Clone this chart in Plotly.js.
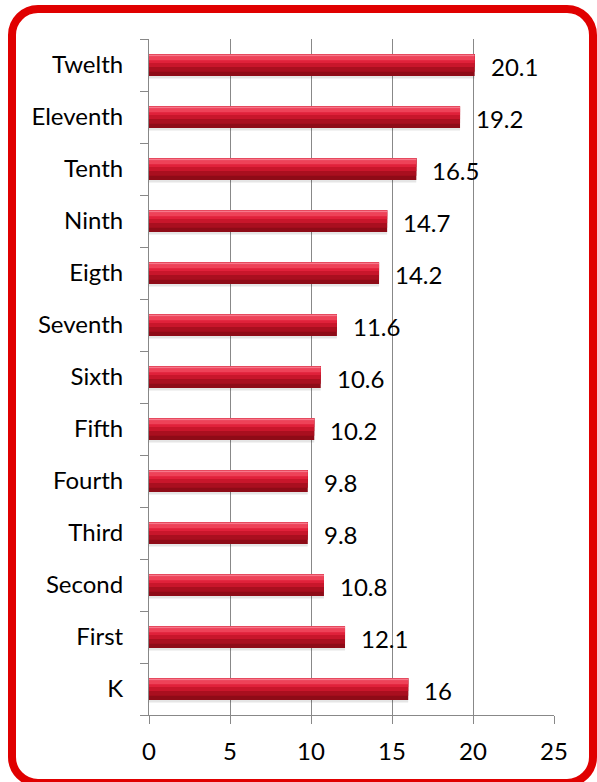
<!DOCTYPE html>
<html>
<head>
<meta charset="utf-8">
<script src="https://cdn.plot.ly/plotly-3.0.1.min.js"></script>
<style>
  html, body { margin: 0; padding: 0; background: #fff; overflow: hidden; }
  #frame { position: absolute; left: 8px; top: 5px; width: 589px; height: 782px; box-sizing: border-box;
           border: 8px solid #e00000; border-radius: 30px; pointer-events: none; z-index: 2; }
  #chart { position: absolute; left: 0; top: 0; width: 597px; height: 782px; }
</style>
</head>
<body>
<div id="chart"></div>
<div id="frame"></div>
<script>
const grades = ["K", "First", "Second", "Third", "Fourth", "Fifth", "Sixth", "Seventh", "Eigth", "Ninth", "Tenth", "Eleventh", "Twelth"];
const values = [16, 12.1, 10.8, 9.8, 9.8, 10.2, 10.6, 11.6, 14.2, 14.7, 16.5, 19.2, 20.1];
const labels = ["16", "12.1", "10.8", "9.8", "9.8", "10.2", "10.6", "11.6", "14.2", "14.7", "16.5", "19.2", "20.1"];
const xTicks = [0, 5, 10, 15, 20, 25];

const FONT = "Lato, Open Sans, sans-serif";
const FS = 24;

function layer(color, offset, width) {
  return {
    type: "bar", orientation: "h", y: grades, x: values,
    offset: offset, width: width,
    marker: { color: color, line: { width: 0 } },
    hoverinfo: "skip", showlegend: false
  };
}

const traces = [
  layer("rgba(0,0,0,0.10)", -0.26, 0.44),
  layer("#8e0b17", -0.21, 0.42),
  layer("#a90f1f", -0.13, 0.34),
  layer("#c8162b", -0.04, 0.25),
  layer("#e0213a", 0.04, 0.16),
  layer("#ee4258", 0.09, 0.08),
  layer("#f7788a", 0.17, 0.03)
];

const annotations = grades.map((g, i) => ({
  x: values[i], y: g, xref: "x", yref: "y",
  text: labels[i], showarrow: false, xanchor: "left", yanchor: "middle",
  xshift: 14, yshift: -1,
  font: { family: FONT, size: FS, color: "#000" }
}));

const layout = {
  width: 597, height: 782,
  margin: { l: 149, r: 43, t: 39, b: 67 },
  paper_bgcolor: "#fff", plot_bgcolor: "#fff",
  barmode: "overlay",
  showlegend: false,
  font: { family: FONT, size: FS, color: "#000" },
  xaxis: {
    range: [0, 25], tickvals: xTicks, ticktext: xTicks.map(String),
    showgrid: true, gridcolor: "#888888", gridwidth: 1,
    zeroline: false, showline: true, linecolor: "#888888", linewidth: 1,
    ticks: "outside", ticklen: 8, tickcolor: "#888888",
    ticklabelstandoff: 7,
    tickfont: { family: FONT, size: FS, color: "#000" },
    fixedrange: true
  },
  yaxis: {
    type: "category", categoryorder: "array", categoryarray: grades,
    range: [-0.5, 12.5],
    showgrid: false, zeroline: false,
    showline: true, linecolor: "#888888", linewidth: 1,
    ticks: "outside", tickson: "boundaries", ticklen: 8, tickcolor: "#888888",
    ticklabelstandoff: 20,
    tickfont: { family: FONT, size: FS, color: "#000" },
    fixedrange: true
  },
  annotations: annotations
};

Plotly.newPlot("chart", traces, layout, { displayModeBar: false, staticPlot: true });
</script>
</body>
</html>
